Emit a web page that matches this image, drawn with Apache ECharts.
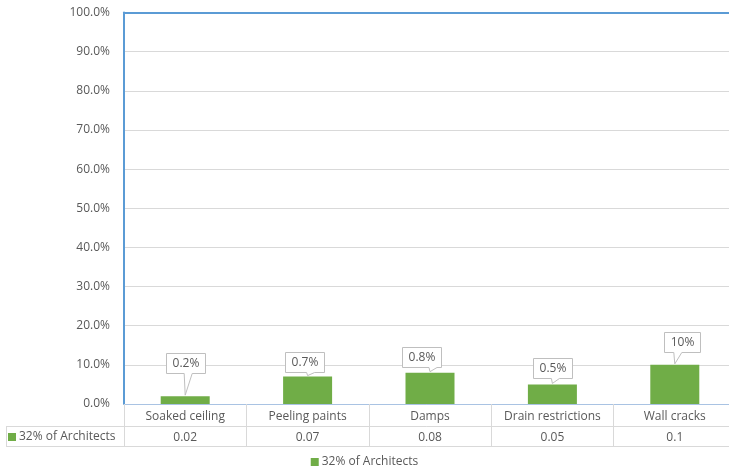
<!DOCTYPE html>
<html>
<head>
<meta charset="utf-8">
<script src="https://cdn.jsdelivr.net/npm/echarts@6/dist/echarts.min.js"></script>
<style>html,body{margin:0;padding:0;background:#fff;}#chart{width:729px;height:470px;}</style>
</head>
<body>
<div id="chart"></div>
<script>
var categories = ['Soaked ceiling', 'Peeling paints', 'Damps', 'Drain restrictions', 'Wall cracks'];
var seriesName = '32% of Architects';
var values = [0.02, 0.07, 0.08, 0.05, 0.1];
var calloutLabels = ['0.2%', '0.7%', '0.8%', '0.5%', '10%'];
var yTicks = [0, 0.1, 0.2, 0.3, 0.4, 0.5, 0.6, 0.7, 0.8, 0.9, 1.0];

// layout tweaks for callouts (pixels)
var calloutGap = [23, 5, 6, 6, 13];
var calloutDx = [0, -3, -9, 0, 7];

var FONT = '"Open Sans", "Noto Sans", sans-serif';
var TXT = '#595959';
var GRIDC = '#d9d9d9';
var BLUE = '#5B9BD5';
var GREEN = '#70AD47';

var mctx = document.createElement('canvas').getContext('2d');
mctx.font = '12px ' + FONT;
function tw(s) { return mctx.measureText(s).width; }

var chart = echarts.init(document.getElementById('chart'), null, {renderer: 'canvas'});

function catAxis(extra) {
  return Object.assign({
    type: 'category',
    gridIndex: 0,
    data: categories,
    boundaryGap: true,
    axisLine: {show: false},
    axisTick: {show: false},
    axisLabel: {show: false},
    splitLine: {show: false}
  }, extra);
}

var option = {
  animation: false,
  backgroundColor: '#ffffff',
  textStyle: {fontFamily: FONT},
  grid: {left: 124, top: 12.5, width: 612, height: 391.5, outerBoundsMode: 'none', containLabel: false},
  legend: [
    {
      data: [seriesName], left: 8, top: 431, icon: 'rect', itemWidth: 8, itemHeight: 8,
      selectedMode: false, padding: 0,
      textStyle: {fontSize: 12, color: TXT, fontFamily: FONT, padding: [0, 0, 0, -2]}
    },
    {
      data: [seriesName], left: 'center', top: 456, icon: 'rect', itemWidth: 8, itemHeight: 8,
      selectedMode: false, padding: 0,
      textStyle: {fontSize: 12, color: TXT, fontFamily: FONT, padding: [0, 0, 0, -2]}
    }
  ],
  xAxis: [
    catAxis({
      position: 'bottom',
      axisLine: {show: true, onZero: false, lineStyle: {color: '#a9c3e3', width: 1}},
      axisTick: {show: true, length: 42, interval: 0, lineStyle: {color: GRIDC}},
      axisLabel: {show: true, interval: 0, margin: 7, fontSize: 12, color: TXT, fontFamily: FONT}
    }),
    catAxis({
      position: 'bottom', offset: 22,
      data: values.map(function (v) { return String(v); }),
      axisLine: {show: true, onZero: false, lineStyle: {color: GRIDC}},
      axisLabel: {show: true, interval: 0, margin: 6, fontSize: 12, color: TXT, fontFamily: FONT}
    }),
    catAxis({
      position: 'bottom', offset: 42,
      axisLine: {show: true, onZero: false, lineStyle: {color: GRIDC}}
    }),
    catAxis({
      position: 'top',
      axisLine: {show: true, onZero: false, lineStyle: {color: BLUE, width: 2}}
    })
  ],
  yAxis: {
    type: 'value',
    min: yTicks[0],
    max: yTicks[yTicks.length - 1],
    interval: 0.1,
    axisLine: {show: true, onZero: false, lineStyle: {color: BLUE, width: 2}},
    axisTick: {show: false},
    splitLine: {show: true, lineStyle: {color: GRIDC, width: 1}},
    axisLabel: {
      margin: 14, fontSize: 12, color: TXT, fontFamily: FONT,
      formatter: function (v) { return (v * 100).toFixed(1) + '%'; }
    }
  },
  graphic: [
    {type: 'line', shape: {x1: 6, y1: 426.5, x2: 124, y2: 426.5}, style: {stroke: GRIDC, lineWidth: 1}, silent: true},
    {type: 'line', shape: {x1: 6, y1: 446.5, x2: 124, y2: 446.5}, style: {stroke: GRIDC, lineWidth: 1}, silent: true},
    {type: 'line', shape: {x1: 6.5, y1: 426, x2: 6.5, y2: 447}, style: {stroke: GRIDC, lineWidth: 1}, silent: true}
  ],
  series: [
    {
      name: seriesName,
      type: 'bar',
      xAxisIndex: 0,
      data: values,
      barWidth: 49,
      itemStyle: {color: GREEN},
      z: 2
    },
    {
      type: 'custom',
      xAxisIndex: 0,
      data: values.map(function (v, i) { return [i, v]; }),
      z: 5,
      silent: true,
      renderItem: function (params, api) {
        var i = params.dataIndex;
        var pt = api.coord([api.value(0), api.value(1)]);
        var text = calloutLabels[i];
        var w = Math.round(tw(text) + 12);
        var h = 20;
        var cx = pt[0] + calloutDx[i];
        var y1 = Math.round(pt[1] - calloutGap[i]) + 0.5;
        var y0 = y1 - h;
        var x0 = Math.round(cx - w / 2) + 0.5;
        var x1 = x0 + w;
        var bx = Math.min(Math.max(pt[0] + 3, x0 + 5), x1 - 5);
        var tip = [pt[0], pt[1] - 1];
        var pts = [[x0, y0], [x1, y0], [x1, y1], [bx + 4, y1], tip, [bx - 4, y1], [x0, y1]];
        return {
          type: 'group',
          children: [
            {type: 'polygon', shape: {points: pts}, style: {fill: '#ffffff', stroke: '#bfbfbf', lineWidth: 1}},
            {type: 'text', x: (x0 + x1) / 2, y: (y0 + y1) / 2 + 0.5,
              style: {text: text, fill: TXT, font: '12px ' + FONT, align: 'center', verticalAlign: 'middle'}}
          ]
        };
      }
    }
  ]
};
chart.setOption(option);
</script>
</body>
</html>
